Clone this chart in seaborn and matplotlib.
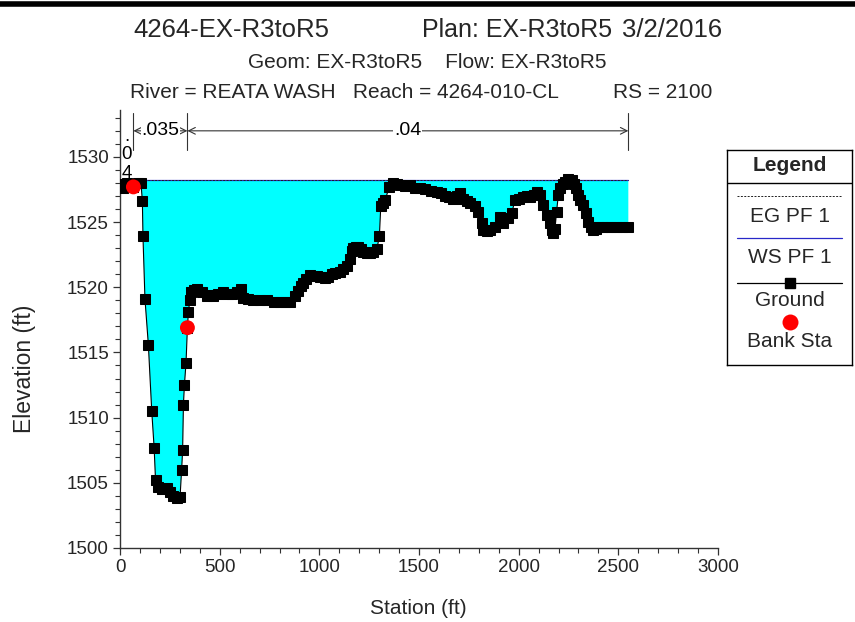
import matplotlib
matplotlib.use("Agg")
import matplotlib.pyplot as plt
from matplotlib.ticker import MultipleLocator
import numpy as np
import pandas as pd
import seaborn as sns

# Cross-section ground points (station ft, elevation ft)
station = [0, 15, 35, 55, 67, 90, 105, 112, 115, 125, 142, 159, 171, 178, 192, 210,
           234, 250, 268, 285, 301, 309, 314, 318, 323, 331, 338, 343, 350, 356, 370,
           388, 410, 435, 450, 468, 490, 518, 540, 560, 585, 607, 619, 640, 669, 700,
           736, 770, 803, 830, 853, 878, 895, 910, 920, 935, 953, 970, 987, 1005, 1028,
           1045, 1062, 1080, 1104, 1120, 1137, 1154, 1165, 1171, 1185, 1196, 1210, 1221,
           1240, 1254, 1270, 1288, 1301, 1308, 1320, 1330, 1351, 1371, 1390, 1405, 1430,
           1455, 1480, 1505, 1530, 1560, 1589, 1610, 1630, 1650, 1672, 1690, 1706, 1722,
           1740, 1756, 1781, 1798, 1815, 1823, 1840, 1856, 1881, 1906, 1923, 1945, 1965,
           1982, 2000, 2023, 2040, 2057, 2075, 2091, 2107, 2124, 2141, 2157, 2165, 2174,
           2182, 2190, 2199, 2207, 2220, 2233, 2249, 2266, 2278, 2288, 2299, 2310, 2324,
           2337, 2350, 2362, 2375, 2390, 2400, 2420, 2442, 2465, 2492, 2520, 2550]
elevation = [1527.9, 1527.6, 1528.0, 1527.9, 1527.7, 1528.0, 1528.0, 1526.6, 1523.9,
             1519.1, 1515.6, 1510.5, 1507.7, 1505.2, 1504.7, 1504.5, 1504.6, 1504.3,
             1504.0, 1503.8, 1503.9, 1506.0, 1507.5, 1511.0, 1512.5, 1514.2, 1516.9,
             1518.1, 1519.0, 1519.6, 1519.8, 1519.85, 1519.6, 1519.3, 1519.4, 1519.3,
             1519.5, 1519.6, 1519.5, 1519.5, 1519.6, 1519.85, 1519.2, 1519.1, 1519.0,
             1519.0, 1519.0, 1518.9, 1518.9, 1518.9, 1518.9, 1519.3, 1519.7, 1520.1,
             1520.3, 1520.6, 1520.95, 1520.9, 1520.9, 1520.8, 1520.7, 1520.8, 1521.0,
             1521.1, 1521.2, 1521.4, 1521.6, 1522.2, 1522.8, 1523.0, 1523.1, 1523.1,
             1522.9, 1522.7, 1522.6, 1522.6, 1522.7, 1522.9, 1523.9, 1526.2, 1526.5,
             1526.7, 1527.7, 1528.0, 1527.9, 1527.85, 1527.8, 1527.85, 1527.6, 1527.6,
             1527.5, 1527.4, 1527.3, 1527.2, 1527.0, 1526.9, 1526.8, 1527.0, 1527.2,
             1526.8, 1526.6, 1526.45, 1526.2, 1525.8, 1524.9, 1524.4, 1524.3, 1524.4,
             1524.65, 1525.4, 1524.9, 1525.3, 1525.7, 1526.7, 1526.8, 1526.95, 1527.0,
             1526.95, 1527.1, 1527.3, 1527.1, 1526.3, 1525.55, 1524.9, 1524.4, 1524.15,
             1524.5, 1525.8, 1527.1, 1527.6, 1527.9, 1528.1, 1528.3, 1528.2, 1527.9,
             1527.6, 1527.1, 1526.7, 1526.3, 1525.7, 1525.0, 1524.6, 1524.4, 1524.5,
             1524.65, 1524.6, 1524.65, 1524.6, 1524.65, 1524.6, 1524.6]

# Bank stations
bank_station = [67, 338]
bank_elev = [1527.7, 1516.9]

# Water surface / energy grade for profile PF 1
ws_elev = 1528.2
eg_elev = 1528.23
ws_limits = [105, 2550]

# Manning's n values between breaks (left overbank, channel, right overbank)
n_values = [".04", ".035", ".04"]

x_ticks = [0, 500, 1000, 1500, 2000, 2500, 3000]
y_ticks = [1500, 1505, 1510, 1515, 1520, 1525, 1530]

sns.set_style("ticks")
plt.rcParams["font.family"] = ["Liberation Sans", "DejaVu Sans"]

fig = plt.figure(figsize=(8.55, 6.22), dpi=100)
ax = fig.add_axes([0.1404, 0.1190, 0.6994, 0.7042])

df = pd.DataFrame({"Station": station, "Elevation": elevation})
st = np.array(station, dtype=float)
el = np.array(elevation, dtype=float)

# Wetted area
m = (st >= ws_limits[0]) & (st <= ws_limits[1])
ax.fill_between(st[m], el[m], ws_elev, where=el[m] <= ws_elev, interpolate=True,
                color="#00FFFF", lw=0, zorder=1)

# WS and EG lines
ax.plot(ws_limits, [ws_elev, ws_elev], color="#2828c8", lw=0.9, zorder=2)
ax.plot(ws_limits, [eg_elev, eg_elev], color="#202020", lw=0.7, ls=(0, (2, 1.5)), zorder=2)

# Ground profile
sns.lineplot(data=df, x="Station", y="Elevation", sort=False, estimator=None,
             color="black", lw=0.8, marker="s", markersize=6.6,
             markeredgecolor="black", markerfacecolor="black", ax=ax, zorder=3)

# Bank stations
sns.scatterplot(x=bank_station, y=bank_elev, color="red", s=115, edgecolor="none",
                ax=ax, zorder=4)

ax.set_xlim(0, 3000)
ax.set_ylim(1500, 1533.6)
ax.set_xticks(x_ticks)
ax.set_yticks(y_ticks)
ax.xaxis.set_minor_locator(MultipleLocator(100))
ax.yaxis.set_minor_locator(MultipleLocator(1))
ax.tick_params(which="major", direction="out", length=5, width=0.9, labelsize=13.5,
               color="#333333", pad=3)
ax.tick_params(which="minor", direction="out", length=3.5, width=0.8, color="#333333")
ax.set_xlabel("")
ax.set_ylabel("")
sns.despine(ax=ax)
for s in ("left", "bottom"):
    ax.spines[s].set_color("#333333")
    ax.spines[s].set_linewidth(1.0)

# Manning's n annotations above the section
breaks = [st[0]] + bank_station + [st[-1]]
y_arrow = 1532.0
for xb in breaks[1:]:
    ax.plot([xb, xb], [1530.5, 1533.4], color="#333333", lw=0.8, clip_on=False)
# left overbank (narrow): written vertically
xl = (breaks[0] + breaks[1]) / 2
for ch, yv in zip(n_values[0], [1531.6, 1530.2, 1528.7]):
    ax.text(xl, yv, ch, ha="center", va="center", fontsize=13.5, color="black",
            clip_on=False)
for i in (1, 2):
    a, b = breaks[i], breaks[i + 1]
    ax.annotate("", xy=(a, y_arrow), xytext=(b, y_arrow),
                arrowprops=dict(arrowstyle="<->", lw=0.8, color="#333333",
                                shrinkA=0, shrinkB=0, mutation_scale=12),
                annotation_clip=False)
    ax.text((a + b) / 2, y_arrow, n_values[i], ha="center", va="center",
            fontsize=14, color="black",
            bbox=dict(facecolor="white", edgecolor="none", pad=0.5))

# Axis titles
fig.text(418 / 855, 1 - 608 / 622, "Station (ft)", ha="center", va="center", fontsize=15)
fig.text(24 / 855, 1 - 369 / 622, "Elevation (ft)", ha="center", va="center",
         rotation=90, fontsize=16.5)

# Header lines
fig.text(133 / 855, 1 - 30 / 622, "4264-EX-R3toR5", ha="left", va="center", fontsize=18.5)
fig.text(517 / 855, 1 - 30 / 622, "Plan: EX-R3toR5", ha="center", va="center", fontsize=18)
fig.text(722 / 855, 1 - 30 / 622, "3/2/2016", ha="right", va="center", fontsize=18.5)
fig.text(427 / 855, 1 - 62 / 622, "Geom: EX-R3toR5    Flow: EX-R3toR5",
         ha="center", va="center", fontsize=15)
fig.text(130 / 855, 1 - 93 / 622, "River = REATA WASH   Reach = 4264-010-CL",
         ha="left", va="center", fontsize=15)
fig.text(712 / 855, 1 - 93 / 622, "RS = 2100", ha="right", va="center", fontsize=15)

# Page rule along the top
fig.add_artist(plt.Line2D([0, 1], [1 - 4 / 622, 1 - 4 / 622], color="black", lw=4))

# Legend panel
lg = fig.add_axes([727 / 855, 1 - 365 / 622, 125 / 855, 215 / 622])
lg.set_xlim(0, 1)
lg.set_ylim(0, 1)
lg.set_xticks([])
lg.set_yticks([])
for s in lg.spines.values():
    s.set_color("black")
    s.set_linewidth(1.0)
lg.text(0.5, 0.926, "Legend", ha="center", va="center", fontsize=15, fontweight="bold")
lg.plot([0, 1], [0.847, 0.847], color="black", lw=1.0)
lg.plot([0.08, 0.92], [0.786, 0.786], color="#202020", lw=0.7, ls=(0, (2, 1.5)))
lg.text(0.5, 0.693, "EG PF 1", ha="center", va="center", fontsize=15)
lg.plot([0.08, 0.92], [0.591, 0.591], color="#2828c8", lw=0.9)
lg.text(0.5, 0.502, "WS PF 1", ha="center", va="center", fontsize=15)
lg.plot([0.08, 0.92], [0.381, 0.381], color="black", lw=0.9)
lg.plot([0.5], [0.381], marker="s", color="black", markersize=6.6)
lg.text(0.5, 0.302, "Ground", ha="center", va="center", fontsize=15)
lg.plot([0.5], [0.2], marker="o", color="red", markersize=11.5, markeredgewidth=0)
lg.text(0.5, 0.107, "Bank Sta", ha="center", va="center", fontsize=15)

fig.savefig("out.png", dpi=100)
